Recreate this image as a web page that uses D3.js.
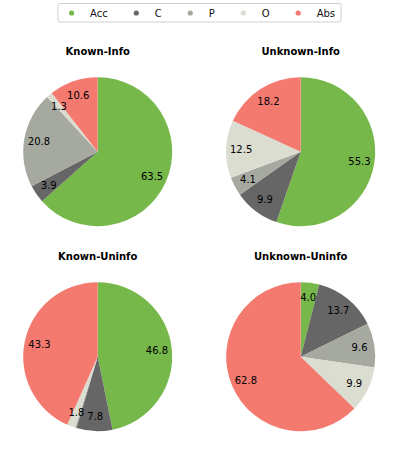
<!DOCTYPE html>
<html>
<head>
<meta charset="utf-8">
<script src="https://cdn.jsdelivr.net/npm/d3@7"></script>
<style>
  body { margin: 0; background: #fff; }
  text { font-family: "DejaVu Sans", sans-serif; }
</style>
</head>
<body>
<div id="chart"></div>
<script>
// categories and per-panel shares (percent)
var categories = ['Acc', 'C', 'P', 'O', 'Abs'];
var panelTitles = ['Known-Info', 'Unknown-Info', 'Known-Uninfo', 'Unknown-Uninfo'];
var knownInfo = [63.5, 3.9, 20.8, 1.3, 10.6];
var unknownInfo = [55.3, 9.9, 4.1, 12.5, 18.2];
var knownUninfo = [46.8, 7.8, 0.3, 1.8, 43.3];
var unknownUninfo = [4.0, 13.7, 9.6, 9.9, 62.8];
var panelValues = [knownInfo, unknownInfo, knownUninfo, unknownUninfo];

var width = 398, height = 455;
var radius = 74.5;
var centers = [[97.7, 151.7], [300.7, 151.7], [97.7, 356.7], [300.7, 356.7]];

var color = d3.scaleOrdinal()
    .domain(categories)
    .range(['#77b84b', '#666666', '#a6a9a0', '#dcddd1', '#f47a70']);

var svg = d3.select('#chart').append('svg')
    .attr('width', width)
    .attr('height', height);

var pie = d3.pie().sort(null).value(function(d) { return d; });
var arc = d3.arc().innerRadius(0).outerRadius(radius);
var labelArc = d3.arc().innerRadius(radius * 0.8).outerRadius(radius * 0.8);

panelValues.forEach(function(vals, i) {
    var g = svg.append('g')
        .attr('transform', 'translate(' + centers[i][0] + ',' + centers[i][1] + ')');

    var arcs = pie(vals);
    arcs.forEach(function(a, k) { a.cat = categories[k]; });

    g.selectAll('path').data(arcs).enter().append('path')
        .attr('d', arc)
        .attr('fill', function(d) { return color(d.cat); });

    // small slices below 1% get no label
    g.selectAll('.lbl').data(arcs.filter(function(d) { return d.data >= 1; }))
        .enter().append('text')
        .attr('class', 'lbl')
        .attr('transform', function(d) { return 'translate(' + labelArc.centroid(d) + ')'; })
        .attr('text-anchor', 'middle')
        .attr('dy', '0.36em')
        .style('font-size', '10px')
        .style('fill', '#000')
        .text(function(d) { return d.data.toFixed(1); });

    g.append('text')
        .attr('x', 0)
        .attr('y', -radius - 22)
        .attr('text-anchor', 'middle')
        .style('font-size', '10px')
        .style('font-weight', 'bold')
        .text(panelTitles[i]);
});

// legend
var legend = svg.append('g');
var box = legend.append('rect')
    .attr('fill', '#fff')
    .attr('stroke', '#d0d0d0')
    .attr('stroke-width', 1)
    .attr('rx', 2);

var x = 0;
var items = [];
categories.forEach(function(c) {
    var it = legend.append('g');
    it.append('circle')
        .attr('cx', x).attr('cy', 13)
        .attr('r', 2.6)
        .attr('fill', color(c));
    var t = it.append('text')
        .attr('x', x + 18.5).attr('y', 13)
        .attr('dy', '0.36em')
        .style('font-size', '10px')
        .style('fill', '#111')
        .text(c);
    x = x + 18.5 + t.node().getComputedTextLength() + 28.5;
    items.push(it);
});
var contentW = x - 28.5;
var boxW = 14.2 + contentW + 5.5;
var boxX = (width - boxW) / 2;
box.attr('x', boxX + 0.5).attr('y', 3.5).attr('width', boxW).attr('height', 18.5);
items.forEach(function(it) {
    it.attr('transform', 'translate(' + (boxX + 14.2) + ',0)');
});
</script>
</body>
</html>
